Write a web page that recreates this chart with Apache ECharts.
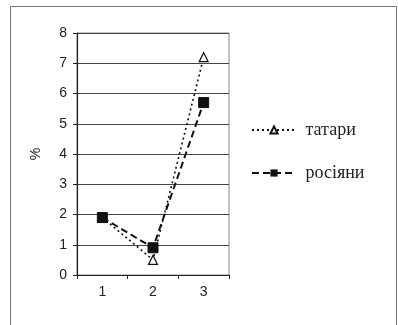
<!DOCTYPE html>
<html><head><meta charset="utf-8">
<script src="https://cdn.jsdelivr.net/npm/echarts@6/dist/echarts.min.js"></script>
<style>html,body{margin:0;padding:0;background:#fff}#c{width:398px;height:325px}</style>
</head><body><div id="c"></div>
<script>
const categories = ['1', '2', '3'];
const tatary = [1.9, 0.5, 7.2];
const rosiyany = [1.9, 0.9, 5.7];
const yTicks = [0, 1, 2, 3, 4, 5, 6, 7, 8];

const chart = echarts.init(document.getElementById('c'), null, {renderer: 'canvas'});
chart.setOption({
  animation: false,
  backgroundColor: '#fff',
  graphic: [{
    type: 'rect', shape: {x: 10.5, y: 6.5, width: 386, height: 340},
    style: {fill: 'none', stroke: '#777', lineWidth: 1}, silent: true, z: -1
  }],
  grid: {left: 77, top: 33, width: 152, height: 242, show: true, borderColor: '#888', borderWidth: 1},
  xAxis: {
    type: 'category', data: categories, boundaryGap: true,
    axisLine: {lineStyle: {color: '#222', width: 1.2}},
    axisTick: {show: true, length: 4, lineStyle: {color: '#222'}},
    axisLabel: {color: '#222', fontFamily: 'Liberation Sans', fontSize: 14, margin: 10}
  },
  yAxis: {
    type: 'value', min: yTicks[0], max: yTicks[yTicks.length - 1], interval: 1,
    name: '%', nameLocation: 'middle', nameGap: 34, nameRotate: 90,
    nameTextStyle: {color: '#222', fontFamily: 'Liberation Sans', fontSize: 14},
    axisLine: {show: true, lineStyle: {color: '#222', width: 1.2}},
    axisTick: {show: true, length: 4, inside: false, lineStyle: {color: '#222'}},
    axisLabel: {color: '#222', fontFamily: 'Liberation Sans', fontSize: 14, margin: 10},
    splitLine: {show: true, lineStyle: {color: '#444', width: 1}}
  },
  legend: {
    orient: 'vertical', left: 246, top: 116, itemGap: 25,
    itemWidth: 44, itemHeight: 9,
    formatter: ' {name}',
    textStyle: {fontFamily: "'Liberation Serif', 'Times New Roman', serif", fontSize: 18, color: '#222'},
    data: ['татари', 'росіяни']
  },
  series: [
    {
      name: 'татари', type: 'line', data: tatary,
      symbol: 'triangle', symbolSize: 9,
      itemStyle: {color: '#fff', borderColor: '#111', borderWidth: 1.2},
      lineStyle: {color: '#111', width: 1.6, type: [2, 3]},
      z: 2
    },
    {
      name: 'росіяни', type: 'line', data: rosiyany,
      symbol: 'rect', symbolSize: 10,
      itemStyle: {color: '#111', borderColor: '#111'},
      lineStyle: {color: '#111', width: 2, type: [7, 4]},
      z: 3
    }
  ]
});
</script></body></html>
